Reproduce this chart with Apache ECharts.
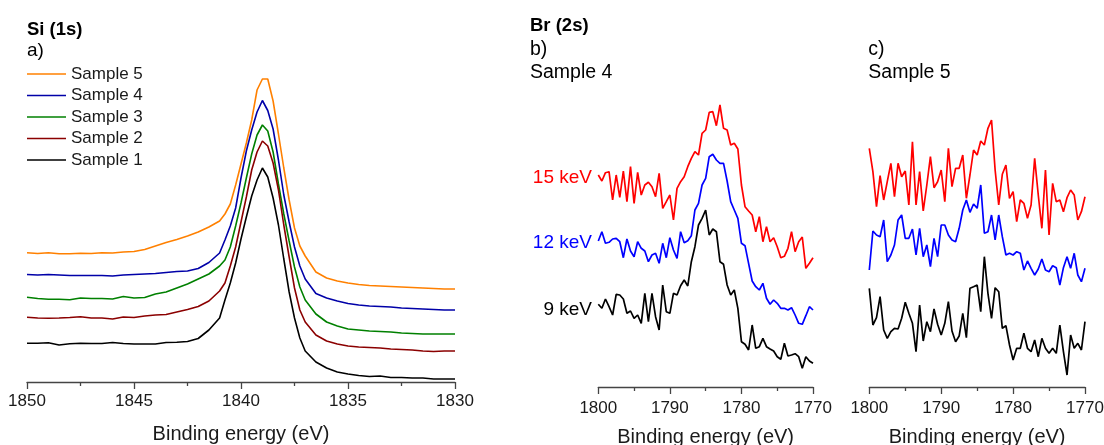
<!DOCTYPE html>
<html>
<head>
<meta charset="utf-8">
<script src="https://cdn.jsdelivr.net/npm/echarts@6/dist/echarts.min.js"></script>
<style>html,body{margin:0;padding:0;background:#fff;}#c{width:1104px;height:445px;}</style>
</head>
<body>
<div id="c"></div>
<script>
// ---- Panel a: Si (1s) ----
const siEnergy = [1850,1849.5,1849,1848.5,1848,1847.5,1847,1846.5,1846,1845.5,1845,1844.5,1844,1843.5,1843,1842.5,1842,1841.5,1841,
  1840.75,1840.5,1840.25,1840,1839.75,1839.5,1839.25,1839,1838.75,1838.5,1838.25,1838,1837.75,1837.5,1837.25,1837,
  1836.5,1836,1835.5,1835,1834.5,1834,1833.5,1833,1832.5,1832,1831.5,1831,1830.5,1830];
const siSample5 = [129.3,128.5,129.2,128.2,128.2,128.7,128.5,129.2,129,130,130.5,132.5,136,139.5,142.5,146,150,155,161,
  168,178,197,218,239,262,292,303,303,281,248,214,182,154,136,126,
  110,104,101,99,97.5,96.5,96,95.5,95,94.5,94,93.5,93,93];
const siSample4 = [107.5,107,107.5,107,106.5,106.5,106.5,106.5,106,107,107.5,108,108.5,109.5,110.5,111,113.5,119.5,129,
  142,156,174,204,231,252,270,281.5,271.5,253,222,187,160,135,116,103,
  88.5,84,81,78.5,77,76,75.5,75,74,73.5,73,72.5,72,72];
const siSample3 = [84.7,83.5,82.7,82.7,82.2,84,83.5,83.5,83,85.5,84,84.5,88,90,94,98,103,108,116,
  122,135,156,179,204,228,247,257,251,230,198,168,141,115,95,82,
  68,60,56,53,52,51,50.5,50,49,48.5,48,48,48,48];
const siSample2 = [64.7,64,63.7,64,64.5,65.3,64,64,63,65,64.5,66,67,67.5,70,72.5,75.5,81,91,
  99,116,135,160,185,212,230,241,236,219,192,157,125,94,72,60,
  47,41,38,36,35,34.5,34,33,32.5,32,31,30.5,31,31];
const siSample1 = [38.7,38.7,39.2,37,38.2,38.7,38.5,38.5,39.5,38.5,38,38,38,39.5,39.7,40.5,43.5,52,64,
  82,99,119,143,165,186,202,214,205,184,157,123,90,64,44,31,
  20,14,10,8,6.5,5.5,6,4.5,4.5,4,4,3,3,3];

// ---- Panels b, c: Br (2s) ----
const brEnergy = [1800,1799.5,1799,1798.5,1798,1797.5,1797,1796.5,1796,1795.5,1795,1794.5,1794,1793.5,1793,1792.5,
  1792,1791.5,1791,1790.5,1790,1789.5,1789,1788.5,1788,1787.5,1787,1786.5,1786,1785.5,1785,1784.5,1784,1783.5,
  1783,1782.5,1782,1781.5,1781,1780.5,1780,1779.5,1779,1778.5,1778,1777.5,1777,1776.5,1776,1775.5,1775,1774.5,
  1774,1773.5,1773,1772.5,1772,1771.5,1771,1770.5,1770];
const s4_15keV = [212,206,214.3,215.3,187,212,189.7,216,185.3,220.3,183.7,214.7,192,202,204.7,200.3,190.3,213.7,178.7,185.3,
  192,167,198.7,205.3,210.3,220.3,228.7,235.3,232,253.7,
  257,274.7,275.3,261.3,282,258.7,257,242,243.7,238,202,180.3,176,172,155.3,170.3,145.3,160.3,145.3,149.3,
  140.3,129.3,130.7,138.7,155.3,135.3,145.3,150,118.7,123.7,129.3];
const s4_12keV = [146,155.3,143.7,144.7,148,148.7,145.3,129.3,148,136,130.3,145.3,138.7,136,125.3,132,133.7,123.7,143.7,129.3,
  149.3,137,128.7,155.3,144.3,146.3,151.3,177,183.7,202,
  208.7,230.3,232.7,227,223.7,223.7,206,185.3,177,168.7,143.7,141.3,123.7,106,100.3,97,103.7,88.7,82.7,87,
  83.7,78.7,78.7,77,79.3,72,63.7,62.7,71.3,80.3,77];
const s4_9keV = [82.7,78.7,88,80.3,72,92.7,92,88,73.7,76,68.7,72,63.7,93.7,65.3,93.7,70.3,57,102,75.3,
  73.7,93.7,92,101.3,107,101,125.3,140.3,162,168.7,
  177,152,158,155.3,125.3,122.7,102,92,97,78.7,45.3,42.7,37,62,38.7,40.3,48.7,40.3,38,36,
  30.3,27.7,43.7,31,32,33.3,30.3,18.7,30.3,26,23.7];
const s5_15keV = [238.7,215.3,180.3,211.3,187,205.3,223.7,190.3,223.7,210.3,216,182,245.3,182,215.3,176,202,230.3,199.3,205.3,
  217,185.3,238.7,200.3,218.7,218.7,232,188.7,212,237,
  232,246,242,258.7,267,217,182,212.7,222,188.7,195.3,165.3,187,183.7,168.7,182,228.7,192,158.7,217,
  152,203.7,185.3,187,175.3,189.3,197,192,167,175.3,190.3];
const s5_12keV = [117,156,152,150.3,167,125.3,132,142,167,172,148.7,148.7,158,132,158.7,130.3,142,120.3,148.7,130.3,
  162,162,152,147,145.3,158.7,177,187,174.7,183,
  178.7,202,153.7,155.3,172,147,172,150.3,132,133.7,132,135.3,133.7,117,126,118.7,112,118,128,117,
  115.3,121.3,119.3,102,119.3,130.3,118.7,133.7,112,105.3,118.7];
const s5_9keV = [98.7,62,69.3,90.3,57,48.7,55.3,58.7,58,68.7,84.7,73.7,63.7,35.3,82,46,65.3,55.3,78,62.7,
  52,63.7,85.3,56,45.3,51,73.7,49.3,98.7,100.3,
  102,75.3,130.3,93.7,68.7,99.3,95.3,58.7,61.3,42,27,38.7,38.7,53.7,38.7,35.3,47,30.3,48.7,38.7,
  33.7,38.7,33.7,62,35.3,12,52,38.7,43.7,37,65.3];

const FONT = '"Liberation Sans", Arial, sans-serif';
const zip = (xs, ys) => xs.map((x, i) => [x, ys[i]]);

function xAxis(gridIndex, min, max, interval, labelMargin, nameGap) {
  return {
    type: 'value', gridIndex, min, max, interval, inverse: true,
    name: 'Binding energy (eV)', nameLocation: 'middle', nameGap,
    nameTextStyle: {fontFamily: FONT, fontSize: 20, color: '#1a1a1a'},
    axisLine: {show: true, onZero: false, lineStyle: {color: '#444', width: 1.3}},
    axisTick: {show: true, length: 7, lineStyle: {color: '#444', width: 1.3}},
    minorTick: {show: true, splitNumber: 2, length: 4, lineStyle: {color: '#444', width: 1.3}},
    axisLabel: {fontFamily: FONT, fontSize: 17, color: '#1a1a1a', margin: labelMargin,
      formatter: v => String(v)},
    splitLine: {show: false}
  };
}
function yAxis(gridIndex, max) {
  return {type: 'value', gridIndex, min: 0, max, show: false, splitLine: {show: false}};
}
function line(name, xi, xs, ys, color, width) {
  return {
    name, type: 'line', xAxisIndex: xi, yAxisIndex: xi, data: zip(xs, ys),
    symbol: 'none', smooth: false, animation: false,
    lineStyle: {color, width}, itemStyle: {color}
  };
}

const chart = echarts.init(document.getElementById('c'), null, {renderer: 'canvas'});
const option = {
  backgroundColor: '#fff',
  animation: false,
  grid: [
    {left: 27, right: 649, top: 40, bottom: 63, containLabel: false, outerBoundsMode: 'none'},
    {left: 598.3, right: 291, top: 40, bottom: 58, containLabel: false, outerBoundsMode: 'none'},
    {left: 869.3, right: 19, top: 40, bottom: 58, containLabel: false, outerBoundsMode: 'none'}
  ],
  xAxis: [xAxis(0, 1830, 1850, 5, 11, 42.5), xAxis(1, 1770, 1800, 10, 12.5, 40), xAxis(2, 1770, 1800, 10, 12.5, 40)],
  yAxis: [yAxis(0, 342), yAxis(1, 347), yAxis(2, 347)],
  legend: {
    data: ['Sample 5', 'Sample 4', 'Sample 3', 'Sample 2', 'Sample 1'],
    orient: 'vertical', left: 27, top: 63.25, padding: 0,
    icon: 'rect', itemWidth: 39, itemHeight: 1.6, itemGap: 0,
    textStyle: {fontFamily: FONT, fontSize: 17, color: '#1a1a1a', lineHeight: 21.5},
    selectedMode: false
  },
  series: [
    line('Sample 5', 0, siEnergy, siSample5, '#FF8000', 1.6),
    line('Sample 4', 0, siEnergy, siSample4, '#0000A8', 1.6),
    line('Sample 3', 0, siEnergy, siSample3, '#008000', 1.6),
    line('Sample 2', 0, siEnergy, siSample2, '#8B0000', 1.6),
    line('Sample 1', 0, siEnergy, siSample1, '#000000', 1.6),
    line('S4 15 keV', 1, brEnergy, s4_15keV, '#FF0000', 1.7),
    line('S4 12 keV', 1, brEnergy, s4_12keV, '#0000FF', 1.7),
    line('S4 9 keV', 1, brEnergy, s4_9keV, '#000000', 1.7),
    line('S5 15 keV', 2, brEnergy, s5_15keV, '#FF0000', 1.7),
    line('S5 12 keV', 2, brEnergy, s5_12keV, '#0000FF', 1.7),
    line('S5 9 keV', 2, brEnergy, s5_9keV, '#000000', 1.7)
  ],
  graphic: [
    {type: 'text', x: 27, y: 29.5, style: {text: 'Si (1s)', font: 'bold 18.5px ' + FONT, fill: '#000', textVerticalAlign: 'middle'}},
    {type: 'text', x: 27, y: 51, style: {text: 'a)', font: '19px ' + FONT, fill: '#000', textVerticalAlign: 'middle'}},
    {type: 'text', x: 530, y: 26, style: {text: 'Br (2s)', font: 'bold 18.5px ' + FONT, fill: '#000', textVerticalAlign: 'middle'}},
    {type: 'text', x: 530, y: 49.5, style: {text: 'b)', font: '19.5px ' + FONT, fill: '#000', textVerticalAlign: 'middle'}},
    {type: 'text', x: 530, y: 73, style: {text: 'Sample 4', font: '19.5px ' + FONT, fill: '#000', textVerticalAlign: 'middle'}},
    {type: 'text', x: 868.3, y: 49.5, style: {text: 'c)', font: '19.5px ' + FONT, fill: '#000', textVerticalAlign: 'middle'}},
    {type: 'text', x: 868.3, y: 73, style: {text: 'Sample 5', font: '19.5px ' + FONT, fill: '#000', textVerticalAlign: 'middle'}},
    {type: 'text', x: 592, y: 178, style: {text: '15 keV', font: '19px ' + FONT, fill: '#FF0000', textAlign: 'right', textVerticalAlign: 'middle'}},
    {type: 'text', x: 592, y: 243, style: {text: '12 keV', font: '19px ' + FONT, fill: '#0000FF', textAlign: 'right', textVerticalAlign: 'middle'}},
    {type: 'text', x: 592, y: 309.5, style: {text: '9 keV', font: '19px ' + FONT, fill: '#000', textAlign: 'right', textVerticalAlign: 'middle'}}
  ]
};
chart.setOption(option);
</script>
</body>
</html>
